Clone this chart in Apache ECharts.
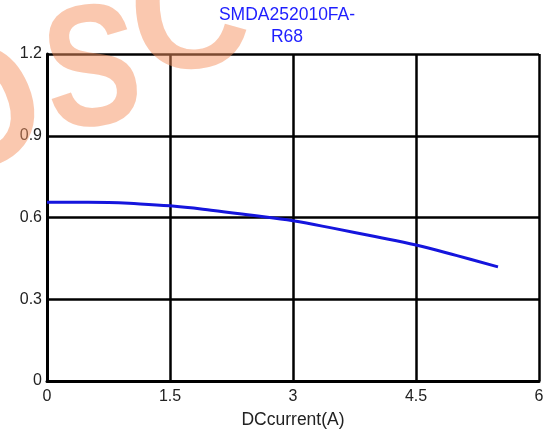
<!DOCTYPE html>
<html>
<head>
<meta charset="utf-8">
<script src="https://cdn.jsdelivr.net/npm/echarts@6/dist/echarts.min.js"></script>
<style>
html,body{margin:0;padding:0;background:#fff;}
#chart{width:553px;height:434px;}
</style>
</head>
<body>
<div id="chart"></div>
<script>
const titleLines = ['SMDA252010FA-', 'R68'];
const xAxisName = 'DCcurrent(A)';
const currentA = [0, 0.5, 0.75, 1, 1.5, 2, 2.5, 3, 3.5, 4, 4.5, 5, 5.5];
const inductance = [0.656, 0.656, 0.655, 0.652, 0.643, 0.627, 0.608, 0.588, 0.560, 0.530, 0.499, 0.460, 0.419];
const watermarkLetters = ['O', 'S', 'C'];

const FONT = 'Arial, "Liberation Sans", sans-serif';
const chart = echarts.init(document.getElementById('chart'), null, {renderer: 'canvas'});
const seriesData = currentA.map((x, i) => [x, inductance[i]]);

// watermark letter placement (decorative background stamp)
const wmPlace = [
  {x: -20, y: 118, r: 0.4, sx: 1},
  {x: 93, y: 77, r: 0.12, sx: 0.87},
  {x: 190, y: 20, r: 0.1, sx: 1}
];
const watermark = watermarkLetters.map((ch, i) => ({
  type: 'text',
  x: wmPlace[i].x,
  y: wmPlace[i].y,
  rotation: wmPlace[i].r,
  scaleX: wmPlace[i].sx,
  scaleY: 1.05,
  z: 100,
  silent: true,
  style: {
    text: ch,
    font: 'bold 165px ' + FONT,
    fill: 'rgba(245,145,95,0.5)',
    textAlign: 'center',
    textVerticalAlign: 'middle'
  }
}));

chart.setOption({
  animation: false,
  backgroundColor: '#ffffff',
  title: {
    text: titleLines.join('\n'),
    left: 287,
    top: 4,
    padding: 0,
    textAlign: 'center',
    textStyle: {
      color: '#1e1eff',
      fontFamily: FONT,
      fontSize: 17.5,
      fontWeight: 'normal',
      lineHeight: 22
    }
  },
  grid: {left: 47, right: 14, top: 54, bottom: 51, containLabel: false},
  xAxis: {
    type: 'value',
    min: 0, max: 6, interval: 1.5,
    name: xAxisName,
    nameLocation: 'middle',
    nameGap: 30,
    nameTextStyle: {color: '#222', fontSize: 17.5, fontFamily: FONT},
    axisLine: {show: true, lineStyle: {color: '#000', width: 3}},
    axisTick: {show: false},
    axisLabel: {color: '#222', fontSize: 16, margin: 8, fontFamily: FONT},
    splitLine: {show: true, lineStyle: {color: '#000', width: 2.5}}
  },
  yAxis: {
    type: 'value',
    min: 0, max: 1.2, interval: 0.3,
    axisLine: {show: true, lineStyle: {color: '#000', width: 3}},
    axisTick: {show: false},
    axisLabel: {color: '#222', fontSize: 16, margin: 5, fontFamily: FONT},
    splitLine: {show: true, lineStyle: {color: '#000', width: 2.5}}
  },
  series: [{
    type: 'line',
    data: seriesData,
    smooth: 0.4,
    showSymbol: false,
    symbol: 'none',
    lineStyle: {color: '#1515dd', width: 3},
    z: 3
  }],
  graphic: watermark
});
</script>
</body>
</html>
